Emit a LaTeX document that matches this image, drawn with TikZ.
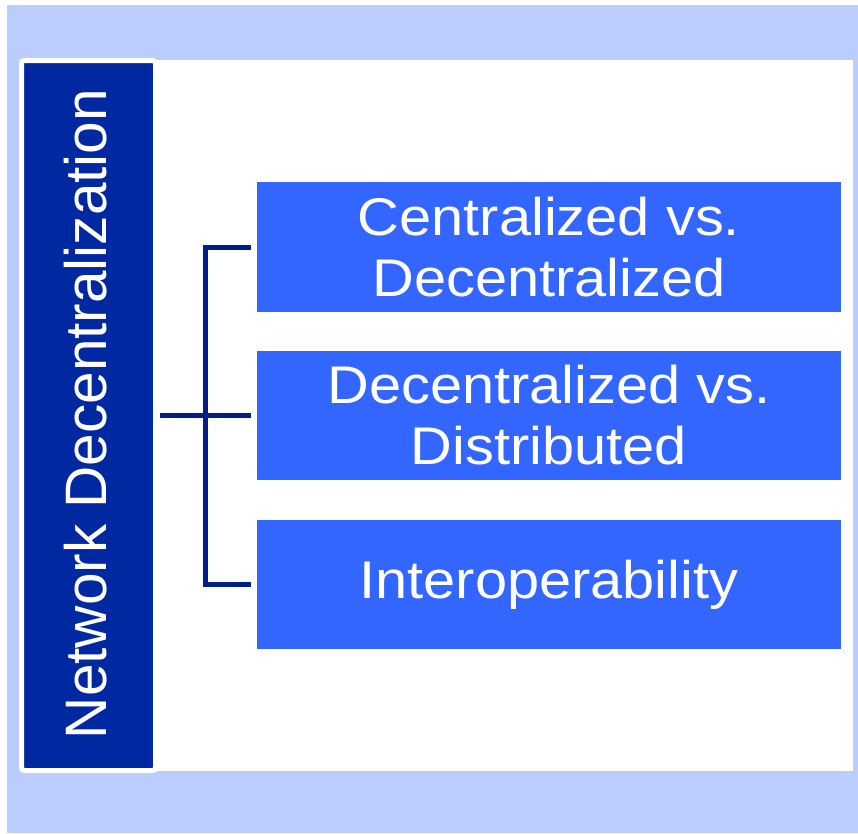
\documentclass[tikz,border=0pt]{standalone}
\usepackage{fontspec}
\setmainfont{Liberation Sans}
\newfontfamily\boxfont[FakeStretch=1.09]{Liberation Sans}
\definecolor{outerblue}{HTML}{BBCCFE}
\definecolor{darkbox}{HTML}{0028A0}
\definecolor{itembox}{HTML}{3366FF}
\definecolor{linkcol}{HTML}{001E88}
\tikzset{
  itemstyle/.style={fill=itembox, draw=none, minimum width=584pt, minimum height=129.5pt,
    inner sep=0pt, text=white, align=center, font=\boxfont\fontsize{53}{61}\selectfont},
  sidestyle/.style={fill=darkbox, draw=white, line width=5pt, rounded corners=3pt,
    minimum width=134pt, minimum height=710pt, inner sep=0pt},
  linkstyle/.style={draw=linkcol, line width=5pt}
}
\begin{document}
\begin{tikzpicture}[x=1pt,y=-1pt]
\useasboundingbox (0,0) rectangle (858,833);
\fill[white] (0,0) rectangle (858,833);
\fill[outerblue] (7,5) rectangle (858,833);
\fill[white] (155,60) rectangle (853,771);
\node[sidestyle] (side) at (88.5,415.5) {};
\node[text=white, rotate=90, inner sep=0pt, font=\fontsize{58.5}{66}\selectfont] (sidetext) at (86,414) {Network Decentralization};
\node[itemstyle] (b1) at (549,247) {Centralized vs.\\Decentralized};
\node[itemstyle] (b2) at (549,415.5) {Decentralized vs.\\Distributed};
\node[itemstyle] (b3) at (549,584.5) {Interoperability};
\coordinate (junc) at (205,415.5);
\draw[linkstyle] ([xshift=2pt]side.east) -- ([xshift=-6pt]b2.west);
\draw[linkstyle, line join=miter] ([xshift=-6pt]b1.west) -| (junc |- b3.west) -- ([xshift=-6pt]b3.west);
\end{tikzpicture}
\end{document}
